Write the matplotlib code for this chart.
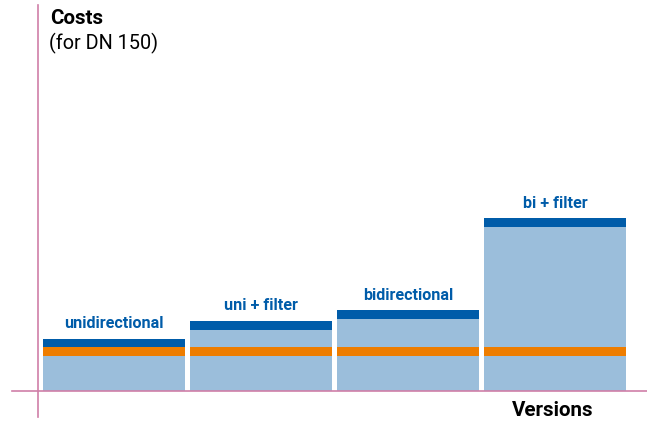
import matplotlib
matplotlib.use("Agg")
import matplotlib.pyplot as plt
from matplotlib.lines import Line2D
import numpy as np

categories = ["unidirectional", "uni + filter", "bidirectional", "bi + filter"]
base_cost = [35, 35, 35, 35]
orange_cost = [9, 9, 9, 9]
middle_cost = [0, 17, 28, 120]
top_cost = [8.5, 9, 9, 9]

LIGHT = "#9bbedb"
ORANGE = "#ee7d00"
DARK = "#005ca9"
AXIS = "#cf7fa8"

W, H = 647, 426
fig = plt.figure(figsize=(W / 100, H / 100), dpi=100)
left_px, right_px, base_px, top_px = 38, 647, 391, 5
ax = fig.add_axes([left_px / W, (H - base_px) / H, (right_px - left_px) / W, (base_px - top_px) / H])
ax.set_xlim(-0.517, 3.626)
ax.set_ylim(0, base_px - top_px)
ax.axis("off")

x = np.arange(len(categories))
width = 142 / 147
bottom = np.zeros(len(categories))
for vals, col in [(base_cost, LIGHT), (orange_cost, ORANGE), (middle_cost, LIGHT), (top_cost, DARK)]:
    ax.bar(x, vals, width, bottom=bottom, color=col, linewidth=0)
    bottom += np.array(vals)

font = "Roboto"
for xi, tot, lab in zip(x, bottom, categories):
    ax.text(xi, tot + 15, lab, ha="center", va="center", color=DARK,
            fontsize=11.6, fontweight="bold", family=font)

fig.add_artist(Line2D([12 / W, 1], [(H - 391) / H] * 2, color=AXIS, lw=1.2))
fig.add_artist(Line2D([38 / W] * 2, [(H - 5) / H, (H - 417) / H], color=AXIS, lw=1.2))

fig.text(50 / W, (H - 18) / H, "Costs", ha="left", va="center", fontsize=14.8,
         fontweight="bold", family=font, color="black")
fig.text(49 / W, (H - 43) / H, "(for DN 150)", ha="left", va="center", fontsize=14.3,
         family=font, color="black")
fig.text(553 / W, (H - 411) / H, "Versions", ha="center", va="center", fontsize=14.8,
         fontweight="bold", family=font, color="black")

fig.savefig("out.png", dpi=100)
